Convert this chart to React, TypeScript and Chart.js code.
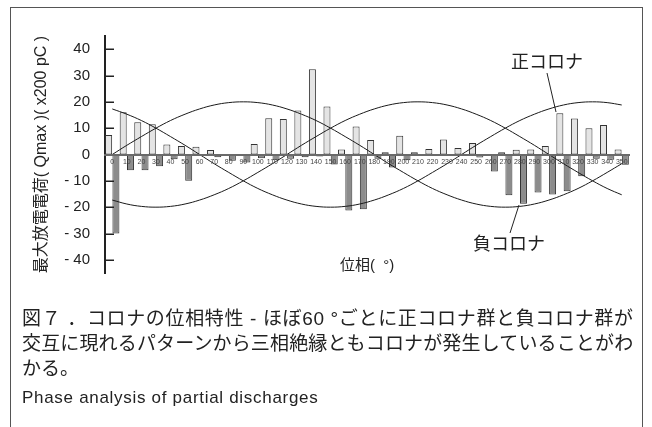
import React, { useEffect, useRef } from 'react';
import { Chart, registerables } from 'chart.js';

Chart.register(...registerables);

const categories = ['0', '10', '20', '30', '40', '50', '60', '70', '80', '90', '100', '110', '120', '130', '140', '150', '160', '170', '180', '190', '200', '210', '220', '230', '240', '250', '260', '270', '280', '290', '300', '310', '320', '330', '340', '350'];

const positiveCorona = [7.4, 16.0, 12.2, 11.5, 3.8, 3.2, 2.9, 1.7, 0, 0, 4.0, 13.8, 13.5, 16.7, 32.4, 18.2, 1.9, 10.6, 5.5, 0.9, 7.1, 0.9, 2.1, 5.7, 2.5, 4.4, 0, 0.9, 1.8, 1.9, 3.2, 15.7, 13.7, 10.0, 11.2, 1.9];

const negativeCorona = [-30, -6, -6, -4.5, -1.8, -10, -0.6, -1.0, -2.4, -3.0, -1.4, -2.2, -1.6, -1.0, -0.8, -3.8, -21.3, -20.8, -1.6, -4.9, -2.2, -0.5, -0.4, -0.4, -0.5, -1.1, -6.5, -15.5, -18.7, -14.4, -15.2, -14.0, -8.3, -1.6, -2.0, -3.9];

const phaseA = [0, 3.5, 6.8, 10, 12.9, 15.3, 17.3, 18.8, 19.7, 20, 19.7, 18.8, 17.3, 15.3, 12.9, 10, 6.8, 3.5, 0, -3.5, -6.8, -10, -12.9, -15.3, -17.3, -18.8, -19.7, -20, -19.7, -18.8, -17.3, -15.3, -12.9, -10, -6.8, -3.5];

const phaseB = [17.3, 15.3, 12.9, 10, 6.8, 3.5, 0, -3.5, -6.8, -10, -12.9, -15.3, -17.3, -18.8, -19.7, -20, -19.7, -18.8, -17.3, -15.3, -12.9, -10, -6.8, -3.5, 0, 3.5, 6.8, 10, 12.9, 15.3, 17.3, 18.8, 19.7, 20, 19.7, 18.8];

const phaseC = [-17.3, -18.8, -19.7, -20, -19.7, -18.8, -17.3, -15.3, -12.9, -10, -6.8, -3.5, 0, 3.5, 6.8, 10, 12.9, 15.3, 17.3, 18.8, 19.7, 20, 19.7, 18.8, 17.3, 15.3, 12.9, 10, 6.8, 3.5, 0, -3.5, -6.8, -10, -12.9, -15.3];

const yTickValues = [-40, -30, -20, -10, 0, 10, 20, 30, 40];

const FONT = "'Liberation Sans', 'Noto Sans CJK JP', sans-serif";

const textStyle = (left: number, top: number, size: number): React.CSSProperties => ({
  position: 'absolute',
  left,
  top,
  fontSize: size,
  lineHeight: '1',
  fontFamily: FONT,
  color: '#222',
  whiteSpace: 'pre',
});

export default function App() {
  const ref = useRef<HTMLCanvasElement>(null);

  useEffect(() => {
    const inwardTicks = {
      id: 'inwardTicks',
      afterDatasetsDraw(chart: any) {
        const y = chart.scales.y;
        const ctx = chart.ctx;
        const left = chart.chartArea.left;
        ctx.save();
        ctx.strokeStyle = '#222';
        ctx.lineWidth = 1.5;
        y.ticks.forEach((t: any) => {
          const py = Math.round(y.getPixelForValue(t.value)) + 0.25;
          ctx.beginPath();
          ctx.moveTo(left, py);
          ctx.lineTo(left + 9, py);
          ctx.stroke();
        });
        ctx.restore();
      },
    };

    const lineDs = (data: number[]) => ({
      type: 'line' as const,
      data,
      borderColor: '#1a1a1a',
      borderWidth: 1,
      pointRadius: 0,
      tension: 0.4,
      fill: false,
      order: 0,
    });

    const chart = new Chart(ref.current as HTMLCanvasElement, {
      type: 'bar',
      data: {
        labels: categories,
        datasets: [
          {
            label: '正コロナ',
            data: positiveCorona,
            backgroundColor: '#e4e4e4',
            borderColor: '#333',
            borderWidth: 1,
            borderSkipped: false,
            categoryPercentage: 1,
            barPercentage: 0.96,
            order: 1,
          } as any,
          {
            label: '負コロナ',
            data: negativeCorona,
            backgroundColor: '#8c8c8c',
            borderColor: '#333',
            borderWidth: 1,
            borderSkipped: false,
            categoryPercentage: 1,
            barPercentage: 0.96,
            order: 1,
          } as any,
          lineDs(phaseA) as any,
          lineDs(phaseB) as any,
          lineDs(phaseC) as any,
        ],
      },
      options: {
        responsive: false,
        animation: false,
        layout: { padding: { top: 36, bottom: 18, right: 23, left: 0 } },
        plugins: { legend: { display: false }, tooltip: { enabled: false } },
        scales: {
          x: {
            position: { y: 0 } as any,
            offset: true,
            grid: { display: false, drawTicks: false },
            border: { display: true, color: '#6a6a6a', width: 2, z: 1 } as any,
            ticks: {
              autoSkip: false,
              maxRotation: 0,
              padding: 3,
              color: '#444',
              z: 1,
              font: { size: 7, family: FONT },
            } as any,
          },
          y: {
            min: -45,
            max: 45,
            afterBuildTicks: (s: any) => {
              s.ticks = yTickValues.map((v) => ({ value: v }));
            },
            afterFit: (s: any) => {
              s.width = 105;
            },
            grid: { display: false, drawTicks: false },
            border: { display: true, color: '#222', width: 2 },
            ticks: {
              padding: 15,
              color: '#222',
              font: { size: 15, family: FONT },
              callback: (v: any) => (Number(v) < 0 ? '- ' + Math.abs(Number(v)) : String(v)),
            },
            title: {
              display: true,
              text: '最大放電電荷( Qmax )( x200 pC )',
              color: '#222',
              font: { size: 16, family: FONT },
              padding: { top: 32, bottom: 0 },
            },
          },
        },
      },
      plugins: [inwardTicks],
    });
    return () => chart.destroy();
  }, []);

  return (
    <div style={{ position: 'absolute', left: 0, top: 0, width: 652, height: 427, background: '#fff', overflow: 'hidden' }}>
      <div
        style={{
          position: 'absolute',
          left: 10,
          top: 7,
          width: 631,
          height: 440,
          borderLeft: '1px solid #555',
          borderTop: '1px solid #555',
          borderRight: '1px solid #555',
        }}
      />
      <canvas ref={ref} width={652} height={297} style={{ position: 'absolute', left: 0, top: 0, width: 652, height: 297 }} />
      <svg width={652} height={427} style={{ position: 'absolute', left: 0, top: 0 }}>
        <line x1={547} y1={73} x2={556} y2={112} stroke="#222" strokeWidth={1} />
        <line x1={519} y1={205} x2={510} y2={233} stroke="#222" strokeWidth={1} />
      </svg>
      <div style={textStyle(511, 53, 18)}>正コロナ</div>
      <div style={textStyle(473, 235, 18)}>負コロナ</div>
      <div style={textStyle(340, 257, 15)}>位相(  °)</div>
      <div style={{ ...textStyle(22, 309, 19), letterSpacing: '0.65px' }}>図７ ．コロナの位相特性 - ほぼ60 °ごとに正コロナ群と負コロナ群が</div>
      <div style={{ ...textStyle(22, 334, 19), letterSpacing: '0.15px' }}>交互に現れるパターンから三相絶縁ともコロナが発生していることがわ</div>
      <div style={textStyle(22, 359, 19)}>かる。</div>
      <div style={{ ...textStyle(22, 389, 17), letterSpacing: '0.7px' }}>Phase analysis of partial discharges</div>
    </div>
  );
}
